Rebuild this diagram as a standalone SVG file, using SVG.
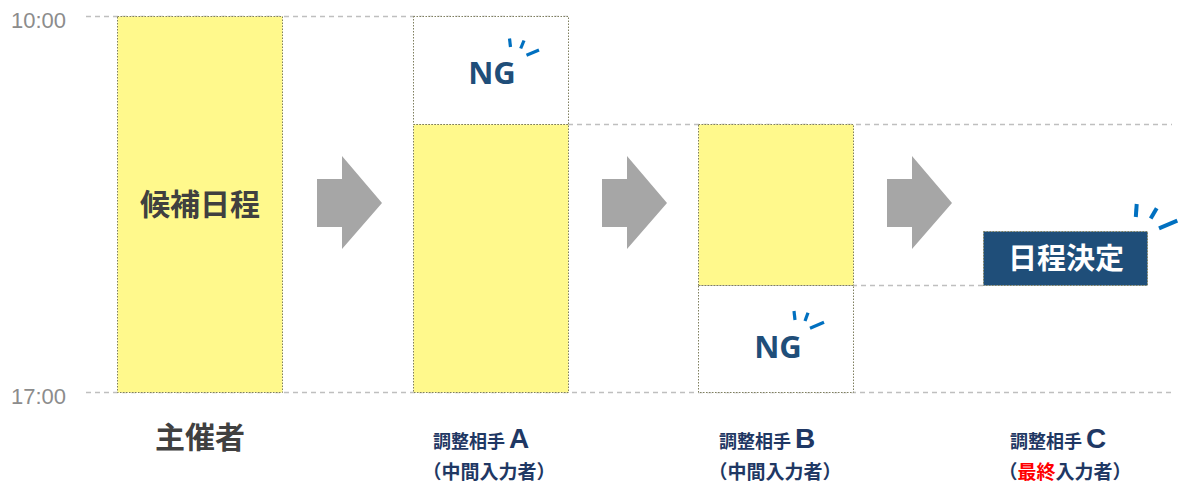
<svg xmlns="http://www.w3.org/2000/svg" width="1192" height="486" viewBox="0 0 1192 486">
<style>
.guide{stroke:#BFBFBF;stroke-width:1.3;stroke-dasharray:5,4;fill:none}
.yel{fill:#FFF98C;stroke:#7F7F5F;stroke-width:1;stroke-dasharray:1.5,1.5}
.wht{fill:#FFFFFF;stroke:#7F7F5F;stroke-width:1;stroke-dasharray:1.5,1.5}
.time{font-family:"Liberation Sans",Arial,sans-serif;font-size:22px;fill:#8C8C8C}
.jp{font-family:"Noto Sans CJK JP","Noto Sans",sans-serif;font-weight:bold}
.ng{font-family:"Noto Sans","Liberation Sans",sans-serif;font-weight:bold;font-size:31px;fill:#1F4E79}
.tick{stroke:#0070C0;stroke-width:3.2;stroke-linecap:butt}
.arrow{fill:#A6A6A6}
.lbl{font-size:18px;fill:#1F3864}
.sub{font-size:19px;fill:#1F3864}
.big{font-family:"Liberation Sans",Arial,sans-serif;font-weight:bold;font-size:28px;fill:#1F3864}
</style>
<g id="guides">
<line class="guide" x1="86" y1="16.5" x2="568" y2="16.5"/>
<line class="guide" x1="568" y1="124.5" x2="1172" y2="124.5"/>
<line class="guide" x1="852" y1="285.5" x2="984" y2="285.5"/>
<line class="guide" x1="86" y1="392.5" x2="1172" y2="392.5"/>
</g>
<text class="time" x="11" y="28">10:00</text>
<text class="time" x="11" y="404">17:00</text>
<g id="organizer">
<rect class="yel" x="117.5" y="16.5" width="165" height="376"/>
<text class="jp" x="200" y="215" font-size="30" fill="#404040" text-anchor="middle">候補日程</text>
<text class="jp" x="200" y="448" font-size="30" fill="#404040" text-anchor="middle">主催者</text>
</g>
<g id="partnerA">
<rect class="wht" x="413.5" y="16.5" width="155" height="108"/>
<rect class="yel" x="413.5" y="124.5" width="155" height="268"/>
<text class="ng" x="492" y="84" text-anchor="middle">NG</text>
<line class="tick" x1="509.5" y1="38.5" x2="510.5" y2="47"/>
<line class="tick" x1="524" y1="40.5" x2="520.7" y2="48.5"/>
<line class="tick" x1="539" y1="50" x2="526.5" y2="55.2"/>
<text class="jp lbl" x="433" y="448">調整相手 <tspan class="big">A</tspan></text>
<text class="jp sub" x="489" y="479" text-anchor="middle">（中間入力者）</text>
</g>
<g id="partnerB">
<rect class="yel" x="698.5" y="124.5" width="155" height="161"/>
<rect class="wht" x="698.5" y="285.5" width="155" height="107"/>
<text class="ng" x="778" y="358" text-anchor="middle">NG</text>
<line class="tick" x1="794" y1="311" x2="795" y2="320"/>
<line class="tick" x1="808" y1="312.7" x2="805" y2="321"/>
<line class="tick" x1="824" y1="322.3" x2="810" y2="328.3"/>
<text class="jp lbl" x="719" y="448">調整相手 <tspan class="big">B</tspan></text>
<text class="jp sub" x="775" y="479" text-anchor="middle">（中間入力者）</text>
</g>
<g id="partnerC">
<rect x="983.5" y="231.5" width="164" height="54" fill="#1F4E79" stroke="#7F7F5F" stroke-width="1" stroke-dasharray="1.5,1.5"/>
<text class="jp" x="1066" y="269" font-size="29" fill="#FFFFFF" text-anchor="middle">日程決定</text>
<line class="tick" x1="1136.7" y1="204" x2="1135.8" y2="217" style="stroke-width:4"/>
<line class="tick" x1="1156.7" y1="208.3" x2="1150.7" y2="218.5" style="stroke-width:4"/>
<line class="tick" x1="1177.3" y1="220.7" x2="1159" y2="228.3" style="stroke-width:4"/>
<text class="jp lbl" x="1010" y="448">調整相手 <tspan class="big">C</tspan></text>
<text class="jp sub" x="1065" y="479" text-anchor="middle">（<tspan fill="#FF0000">最終</tspan>入力者）</text>
</g>
<g id="connectors">
<polygon class="arrow" points="317,179 342,179 342,156 382,203 342,249 342,227 317,227"/>
<polygon class="arrow" points="602,179 627,179 627,156 667,203 627,249 627,227 602,227"/>
<polygon class="arrow" points="887,179 912,179 912,156 952,203 912,249 912,227 887,227"/>
</g>
</svg>
